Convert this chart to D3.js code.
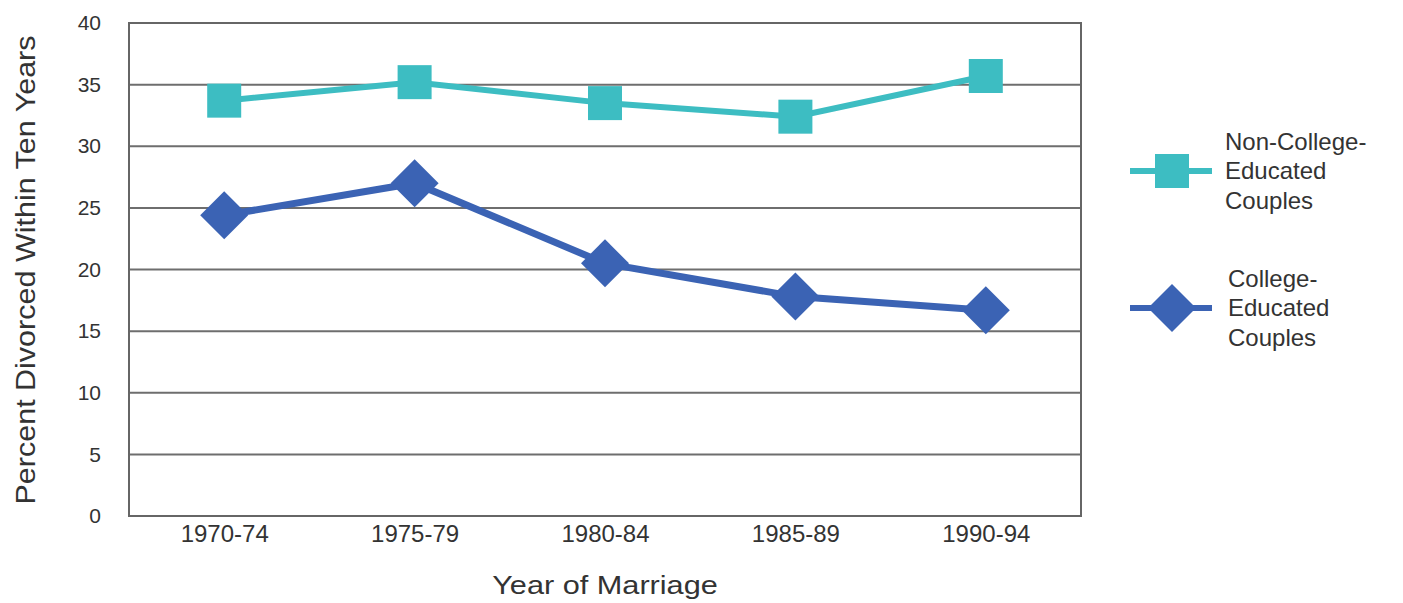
<!DOCTYPE html>
<html>
<head>
<meta charset="utf-8">
<script src="https://cdn.jsdelivr.net/npm/d3@7"></script>
<style>
  body { margin: 0; background: #fff; }
  text { font-family: "Liberation Sans", Arial, sans-serif; fill: #333; }
</style>
</head>
<body>
<svg id="chart" width="1403" height="603"></svg>
<script>
// data
var periods = ['1970-74', '1975-79', '1980-84', '1985-89', '1990-94'];
var nonCollege = [33.7, 35.2, 33.5, 32.4, 35.7];
var college = [24.4, 27.0, 20.5, 17.8, 16.7];
var yTicks = [0, 5, 10, 15, 20, 25, 30, 35, 40];

var teal = '#3dbdc2';
var blue = '#3b63b4';

// plot box (note: "top" is reserved on window, so use other names)
var plotL = 129, plotR = 1081, plotT = 23, plotB = 516;

var svg = d3.select('#chart');

var x = d3.scalePoint()
  .domain(periods)
  .range([plotL, plotR])
  .padding(0.5);

var y = d3.scaleLinear()
  .domain([0, 40])
  .range([plotB, plotT]);

// gridlines
svg.append('g')
  .selectAll('line')
  .data(yTicks.filter(function (d) { return d > 0 && d < 40; }))
  .enter().append('line')
  .attr('x1', plotL).attr('x2', plotR)
  .attr('y1', function (d) { return y(d); })
  .attr('y2', function (d) { return y(d); })
  .attr('stroke', '#6e6e6e')
  .attr('stroke-width', 2);

// frame
svg.append('rect')
  .attr('x', plotL).attr('y', plotT)
  .attr('width', plotR - plotL).attr('height', plotB - plotT)
  .attr('fill', 'none')
  .attr('stroke', '#666')
  .attr('stroke-width', 2);

// y axis labels
var yAxis = d3.axisLeft(y).tickValues(yTicks).tickSize(0).tickPadding(28);
var gy = svg.append('g').attr('transform', 'translate(' + plotL + ',0)').call(yAxis);
gy.select('.domain').remove();
gy.selectAll('text').style('font-size', '21px').attr('fill', '#333');

// x axis labels
var xAxis = d3.axisBottom(x).tickSize(0).tickPadding(9);
var gx = svg.append('g').attr('transform', 'translate(0,' + plotB + ')').call(xAxis);
gx.select('.domain').remove();
gx.selectAll('text').style('font-size', '24px').attr('fill', '#333');

// axis titles (source text is a bit wider than Liberation Sans, so stretch)
svg.append('text')
  .attr('transform', 'translate(' + ((plotL + plotR) / 2) + ',594) scale(1.18,1)')
  .attr('text-anchor', 'middle')
  .style('font-size', '26px')
  .text('Year of Marriage');

svg.append('text')
  .attr('transform', 'translate(35,270) rotate(-90) scale(1.09,1)')
  .attr('text-anchor', 'middle')
  .style('font-size', '28px')
  .text('Percent Divorced Within Ten Years');

var line = d3.line()
  .x(function (d, i) { return x(periods[i]); })
  .y(function (d) { return y(d); });

// non-college series
svg.append('path')
  .datum(nonCollege)
  .attr('d', line)
  .attr('fill', 'none')
  .attr('stroke', teal)
  .attr('stroke-width', 6);

svg.append('g')
  .selectAll('rect')
  .data(nonCollege)
  .enter().append('rect')
  .attr('x', function (d, i) { return x(periods[i]) - 17; })
  .attr('y', function (d) { return y(d) - 17; })
  .attr('width', 34).attr('height', 34)
  .attr('fill', teal);

// college series
svg.append('path')
  .datum(college)
  .attr('d', line)
  .attr('fill', 'none')
  .attr('stroke', blue)
  .attr('stroke-width', 7);

var diamond = 'M0,-24L24,0L0,24L-24,0Z';
svg.append('g')
  .selectAll('path')
  .data(college)
  .enter().append('path')
  .attr('d', diamond)
  .attr('transform', function (d, i) { return 'translate(' + x(periods[i]) + ',' + y(d) + ')'; })
  .attr('fill', blue);

// legend
var legend = [
  { color: teal, shape: 'square', cy: 171, lines: ['Non-College-', 'Educated', 'Couples'], tx: 1225 },
  { color: blue, shape: 'diamond', cy: 308, lines: ['College-', 'Educated', 'Couples'], tx: 1228 }
];

legend.forEach(function (l) {
  var g = svg.append('g');
  g.append('line')
    .attr('x1', 1130).attr('x2', 1212)
    .attr('y1', l.cy).attr('y2', l.cy)
    .attr('stroke', l.color)
    .attr('stroke-width', 6);
  if (l.shape === 'square') {
    g.append('rect')
      .attr('x', 1172 - 17).attr('y', l.cy - 17)
      .attr('width', 34).attr('height', 34)
      .attr('fill', l.color);
  } else {
    g.append('path')
      .attr('d', diamond)
      .attr('transform', 'translate(1172,' + l.cy + ')')
      .attr('fill', l.color);
  }
  l.lines.forEach(function (t, i) {
    g.append('text')
      .attr('x', l.tx)
      .attr('y', l.cy + (i - 1) * 29.5)
      .attr('dy', '0.35em')
      .style('font-size', '24px')
      .text(t);
  });
});
</script>
</body>
</html>
